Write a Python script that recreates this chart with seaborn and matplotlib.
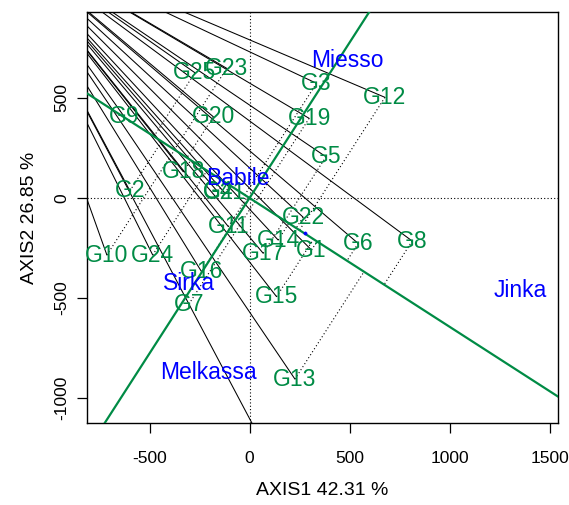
import numpy as np
import pandas as pd
import matplotlib
matplotlib.use("Agg")
import matplotlib.pyplot as plt
import seaborn as sns

# ---------------- data ----------------
genotypes = ["G1", "G2", "G3", "G4", "G5", "G6", "G7", "G8", "G9", "G10",
             "G11", "G12", "G13", "G14", "G15", "G16", "G17", "G18", "G19",
             "G20", "G21", "G22", "G23", "G24", "G25"]
gen_x = [310, -598, 335, -158, 382, 543, -303, 813, -626, -713,
         -106, 677, 227, 143, 135, -240, 68, -331, 298,
         -181, -123, 268, -114, -484, -273]
gen_y = [-260, 36, 573, 30, 206, -227, -530, -215, 406, -285,
         -143, 503, -905, -210, -493, -368, -276, 131, 398,
         406, 25, -96, 648, -285, 626]

environments = ["Miesso", "Babile", "Sirka", "Melkassa", "Jinka"]
env_x = [490, -56, -303, -206, 1352]
env_y = [685, 95, -426, -873, -463]

aec_x = [275]          # average environment coordinate (blue dot)
aec_y = [-177]
focus_x = -1293        # common point of the black rays
focus_y = 1340
extended_rays = ["G7"]  # rays continuing past the genotype

x_ticks = [-500, 0, 500, 1000, 1500]
y_ticks = [-1000, -500, 0, 500]
x_title = "AXIS1 42.31 %"
y_title = "AXIS2 26.85 %"

# ---------------- style ----------------
sns.set_style("white")
plt.rcParams["font.family"] = ["Liberation Sans", "DejaVu Sans"]
plt.rcParams["text.color"] = "black"
plt.rcParams["axes.labelcolor"] = "black"
plt.rcParams["xtick.color"] = "black"
plt.rcParams["ytick.color"] = "black"
GREEN = "#008B45"
BLUE = "#0000FF"

fig = plt.figure(figsize=(5.69, 5.05), dpi=100)
ax = fig.add_axes([0.1534, 0.1614, 0.8273, 0.8154])
xlim = (-811, 1542)
ylim = (-1127, 931)
ax.set_xlim(*xlim)
ax.set_ylim(*ylim)

gdf = pd.DataFrame({"name": genotypes, "x": gen_x, "y": gen_y})

# reference axes
ax.axhline(0, color="black", lw=0.8, ls=(0, (1, 2)), zorder=1)
ax.axvline(0, color="black", lw=0.8, ls=(0, (1, 2)), zorder=1)

# AEC abscissa and ordinate (through origin)
ax_dir = np.array([aec_x[0], aec_y[0]], float)
ax_dir /= np.linalg.norm(ax_dir)
ord_dir = np.array([-ax_dir[1], ax_dir[0]])
T = 5000
for d in (ax_dir, ord_dir):
    line = pd.DataFrame({"x": [-T * d[0], T * d[0]], "y": [-T * d[1], T * d[1]]})
    sns.lineplot(data=line, x="x", y="y", ax=ax, color=GREEN, lw=1.6,
                 sort=False, estimator=None, zorder=3)

# black rays from focus point to each genotype
for _, r in gdf.iterrows():
    ex, ey = r.x, r.y
    if r["name"] in extended_rays:
        t = (ylim[0] - focus_y) / (r.y - focus_y)
        ex = focus_x + t * (r.x - focus_x)
        ey = ylim[0]
    ax.plot([focus_x, ex], [focus_y, ey], color="black", lw=0.75, zorder=2)

# dotted perpendiculars to the AEC abscissa
for _, r in gdf.iterrows():
    p = np.array([r.x, r.y])
    proj = np.dot(p, ax_dir) * ax_dir
    ax.plot([r.x, proj[0]], [r.y, proj[1]], color="black", lw=0.8,
            ls=(0, (1, 2.2)), zorder=2)

# average environment point
sns.scatterplot(x=aec_x, y=aec_y, ax=ax, color=BLUE, s=6, edgecolor=None, zorder=4)

# labels
for _, r in gdf.iterrows():
    ax.text(r.x, r.y, r["name"], color=GREEN, fontsize=16.5, ha="center",
            va="center", zorder=5)
for n, x, y in zip(environments, env_x, env_y):
    ax.text(x, y, n, color=BLUE, fontsize=16.5, ha="center", va="center", zorder=5)

ax.set_xticks(x_ticks)
ax.set_yticks(y_ticks)
ax.set_xticklabels([str(v) for v in x_ticks])
ax.set_yticklabels([str(v) for v in y_ticks], rotation=90, va="center")
ax.tick_params(axis="both", direction="out", length=7, width=0.9,
               labelsize=12.5, colors="black", bottom=True, left=True)
ax.tick_params(axis="x", pad=13)
ax.tick_params(axis="y", pad=6)
for s in ax.spines.values():
    s.set_color("black")
    s.set_linewidth(1.0)
ax.set_xlabel(x_title, fontsize=14, labelpad=11)
ax.set_ylabel(y_title, fontsize=14, labelpad=12)

fig.savefig("out.png", dpi=100)
